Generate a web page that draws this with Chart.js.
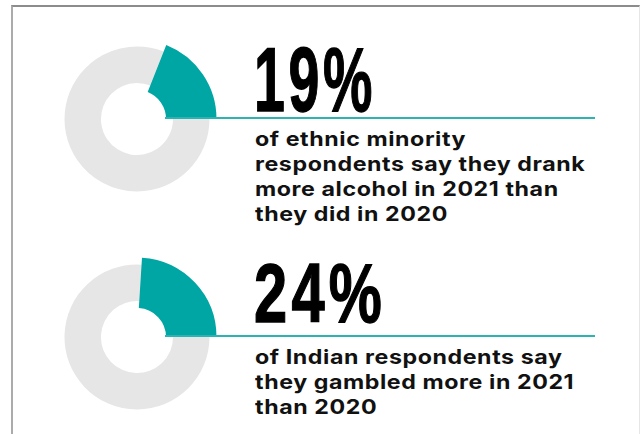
<!DOCTYPE html>
<html>
<head>
<meta charset="utf-8">
<script src="https://cdn.jsdelivr.net/npm/chart.js@4/dist/chart.umd.min.js"></script>
<style>
  html, body { margin: 0; padding: 0; background: #fff; }
  #page { position: relative; width: 641px; height: 434px; overflow: hidden; background: #fff; }
  #frame {
    position: absolute; left: 11px; top: 5px; width: 626px; height: 460px;
    border-top: 2px solid #8c8c8c; border-left: 2px solid #ababab; border-right: 1px solid #e6e6e6;
  }
  .ring { position: absolute; width: 170px; height: 170px; }
  .big {
    position: absolute; left: 254px; margin: 0; white-space: nowrap;
    font-family: "Liberation Sans Narrow", "Liberation Sans", sans-serif;
    font-weight: 700; color: #000; line-height: 1; transform-origin: left top;
    letter-spacing: 6px; -webkit-text-stroke: 1.4px #000;
  }
  .rule { position: absolute; left: 165px; width: 430px; height: 2px; background: #2db3b2; }
  .desc {
    position: absolute; left: 255px; margin: 0; white-space: nowrap;
    font-family: Inter, "Open Sans", sans-serif; font-weight: 700;
    font-size: 20px; line-height: 25px; letter-spacing: 0.5px; color: #111;
    transform-origin: left top; transform: scaleX(1.16);
  }
</style>
</head>
<body>
<div id="page">
  <div id="frame"></div>
</div>
<script>
// Survey figures shown as part-of-whole rings
const shares = [19, 24];
const percentLabels = ['19%', '24%'];
const descriptions = [
  ['of ethnic minority', 'respondents say they drank', 'more alcohol in 2021 than', 'they did in 2020'],
  ['of Indian respondents say', 'they gambled more in 2021', 'than 2020']
];

const TEAL = '#00a6a4';
const GREY = '#e6e6e6';

// Per-block layout
const blocks = [
  { cy: 119, bigTop: 34, bigSize: 91, bigScale: 0.61, ruleY: 117, descTop: 127 },
  { cy: 337, bigTop: 251, bigSize: 84, bigScale: 0.71, ruleY: 335, descTop: 345 }
];

const page = document.getElementById('page');
const RING_BOX = 170;

function ringChart(canvas, data, colors, radius, cutout) {
  return new Chart(canvas, {
    type: 'doughnut',
    data: { datasets: [{ data: data, backgroundColor: colors, borderWidth: 0, hoverOffset: 0 }] },
    options: {
      responsive: false,
      animation: false,
      events: [],
      rotation: 90,
      radius: radius,
      cutout: cutout,
      layout: { padding: 0 },
      plugins: { legend: { display: false }, tooltip: { enabled: false } }
    }
  });
}

shares.forEach((v, i) => {
  const b = blocks[i];
  const left = 136.5 - RING_BOX / 2;
  const top = b.cy - RING_BOX / 2;

  // grey background ring
  const c1 = document.createElement('canvas');
  c1.width = RING_BOX; c1.height = RING_BOX;
  c1.className = 'ring';
  c1.style.left = left + 'px'; c1.style.top = top + 'px';
  page.appendChild(c1);
  ringChart(c1, [100 - v, v], [GREY, GREY], 72.5, '49.7%');

  // highlighted share, drawn as a thicker wedge on top
  const c2 = document.createElement('canvas');
  c2.width = RING_BOX; c2.height = RING_BOX;
  c2.className = 'ring';
  c2.style.left = left + 'px'; c2.style.top = top + 'px';
  page.appendChild(c2);
  ringChart(c2, [100 - v, v], ['rgba(0,0,0,0)', TEAL], 79.5, '36.5%');

  const big = document.createElement('div');
  big.className = 'big';
  big.textContent = percentLabels[i];
  big.style.top = b.bigTop + 'px';
  big.style.fontSize = b.bigSize + 'px';
  big.style.transform = 'scaleX(' + b.bigScale + ')';
  page.appendChild(big);

  const rule = document.createElement('div');
  rule.className = 'rule';
  rule.style.top = b.ruleY + 'px';
  page.appendChild(rule);

  const desc = document.createElement('div');
  desc.className = 'desc';
  desc.style.top = b.descTop + 'px';
  desc.innerHTML = descriptions[i].join('<br>');
  page.appendChild(desc);
});
</script>
</body>
</html>
